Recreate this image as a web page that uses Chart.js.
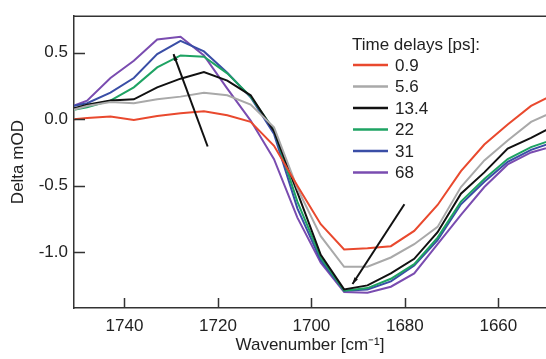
<!DOCTYPE html>
<html>
<head>
<meta charset="utf-8">
<script src="https://cdn.jsdelivr.net/npm/chart.js@4.4.1/dist/chart.umd.min.js"></script>
<style>
  html, body { margin: 0; padding: 0; background: #fff; }
  #wrap { width: 546px; height: 359px; }
</style>
</head>
<body>
<div id="wrap"><canvas id="mycanvas"></canvas></div>
<script>
// wavenumbers (cm-1) the spectra are sampled at
var wavenumbers = [1751, 1748, 1743, 1738, 1733, 1728, 1723, 1718, 1713, 1708, 1703,
                   1698, 1693, 1688, 1683, 1678, 1673, 1668, 1663, 1658, 1653, 1648];

var delays = ["0.9", "5.6", "13.4", "22", "31", "68"];
var colors = ["#e9492e", "#a9a9a9", "#111111", "#1ea363", "#3a4ea6", "#7a4cb0"];

var d0_9  = [0.00, 0.01, 0.02, -0.005, 0.025, 0.045, 0.06, 0.03, -0.02, -0.20, -0.50,
             -0.79, -0.98, -0.97, -0.955, -0.84, -0.645, -0.39, -0.19, -0.04, 0.10, 0.19];
var d5_6  = [0.07, 0.10, 0.13, 0.12, 0.15, 0.17, 0.20, 0.18, 0.11, -0.06, -0.52,
             -0.88, -1.11, -1.11, -1.04, -0.94, -0.81, -0.51, -0.31, -0.16, -0.02, 0.06];
var d13_4 = [0.08, 0.11, 0.14, 0.15, 0.24, 0.305, 0.355, 0.29, 0.18, -0.09, -0.55,
             -1.02, -1.28, -1.25, -1.16, -1.05, -0.85, -0.56, -0.40, -0.22, -0.14, -0.05];
var d22   = [0.07, 0.09, 0.14, 0.24, 0.39, 0.48, 0.47, 0.345, 0.17, -0.08, -0.62,
             -1.04, -1.29, -1.27, -1.20, -1.09, -0.89, -0.62, -0.45, -0.30, -0.21, -0.15];
var d31   = [0.10, 0.12, 0.20, 0.31, 0.49, 0.59, 0.51, 0.35, 0.165, -0.11, -0.67,
             -1.06, -1.29, -1.28, -1.22, -1.10, -0.91, -0.64, -0.47, -0.32, -0.23, -0.17];
var d68   = [0.10, 0.14, 0.31, 0.44, 0.60, 0.62, 0.48, 0.23, -0.01, -0.30, -0.74,
             -1.08, -1.30, -1.305, -1.26, -1.16, -0.94, -0.72, -0.51, -0.34, -0.25, -0.20];

var xTicks = [1740, 1720, 1700, 1680, 1660];
var yTicks = [-1.0, -0.5, 0.0, 0.5];

// annotation arrows [x0, y0, x1, y1], head at the second point
var arrow1 = [1722.2, -0.205, 1729.5, 0.49];
var arrow2 = [1680.1, -0.64, 1691.2, -1.24];

var series = [d0_9, d5_6, d13_4, d22, d31, d68];
var datasets = [];
for (var i in series) {
	var pts = [];
	for (var k in wavenumbers) {
		pts.push({x: wavenumbers[k], y: series[i][k]});
	}
	datasets.push({
		label: delays[i],
		data: pts,
		borderColor: colors[i],
		backgroundColor: colors[i],
		borderWidth: 2,
		pointRadius: 0,
		fill: false,
		tension: 0
	});
}

var FONT = "'Liberation Sans', Arial, sans-serif";
var INK = "#333333";

var decor = {
	id: "decor",
	afterDatasetsDraw: function(chart) {
		var c = chart.ctx, a = chart.chartArea;
		var xs = chart.scales.x, ys = chart.scales.y;
		c.save();
		// top frame line
		c.strokeStyle = INK;
		c.lineWidth = 1.5;
		c.beginPath();
		c.moveTo(a.left, a.top);
		c.lineTo(a.right, a.top);
		c.stroke();
		// inward ticks
		c.beginPath();
		xTicks.forEach(function(v) {
			var px = Math.round(xs.getPixelForValue(v)) + 0.5;
			c.moveTo(px, a.bottom);
			c.lineTo(px, a.bottom - 10);
		});
		yTicks.forEach(function(v) {
			var py = Math.round(ys.getPixelForValue(v)) + 0.5;
			c.moveTo(a.left, py);
			c.lineTo(a.left + 11, py);
		});
		c.stroke();

		// arrows
		c.strokeStyle = "#111";
		c.fillStyle = "#111";
		c.lineWidth = 2;
		[arrow1, arrow2].forEach(function(ar) {
			var x0 = xs.getPixelForValue(ar[0]), y0 = ys.getPixelForValue(ar[1]);
			var x1 = xs.getPixelForValue(ar[2]), y1 = ys.getPixelForValue(ar[3]);
			c.beginPath();
			c.moveTo(x0, y0);
			c.lineTo(x1, y1);
			c.stroke();
			var ang = Math.atan2(y1 - y0, x1 - x0);
			c.beginPath();
			c.moveTo(x1, y1);
			c.lineTo(x1 - 7 * Math.cos(ang - 0.3), y1 - 7 * Math.sin(ang - 0.3));
			c.lineTo(x1 - 7 * Math.cos(ang + 0.3), y1 - 7 * Math.sin(ang + 0.3));
			c.closePath();
			c.fill();
		});

		// legend
		c.font = "17px " + FONT;
		c.fillStyle = "#222";
		c.textBaseline = "middle";
		c.textAlign = "left";
		c.fillText("Time delays [ps]:", 352, 45);
		chart.data.datasets.forEach(function(ds, j) {
			var ry = 65 + j * 21.5;
			c.strokeStyle = ds.borderColor;
			c.lineWidth = 2.5;
			c.beginPath();
			c.moveTo(353, ry);
			c.lineTo(388, ry);
			c.stroke();
			c.fillText(ds.label, 395, ry + 1);
		});
		c.restore();
	}
};

var ctx = document.getElementById("mycanvas");
var chart = new Chart(ctx, {
	type: "line",
	data: { datasets: datasets },
	plugins: [decor],
	options: {
		responsive: true,
		maintainAspectRatio: false,
		animation: false,
		devicePixelRatio: 1,
		layout: { padding: { top: 12, right: 0, bottom: 0, left: 0 } },
		plugins: { legend: { display: false }, tooltip: { enabled: false } },
		scales: {
			x: {
				type: "linear",
				reverse: true,
				min: 1649.8,
				max: 1750.8,
				afterBuildTicks: function(s) { s.ticks = xTicks.map(function(v) { return {value: v}; }); },
				afterFit: function(s) { s.height = 51; },
				grid: { display: false, drawTicks: false },
				border: { display: true, color: INK, width: 1.5 },
				ticks: { padding: 8, color: "#222", font: { family: FONT, size: 17 }, maxRotation: 0,
					callback: function(v) { return v; } },
				title: { display: true, text: "Wavenumber [cm\u207B\u00B9]", color: "#222",
					font: { family: FONT, size: 17 }, padding: { top: 0, bottom: 3 } }
			},
			y: {
				min: -1.42,
				max: 0.775,
				afterBuildTicks: function(s) { s.ticks = yTicks.map(function(v) { return {value: v}; }); },
				afterFit: function(s) { s.width = 74; },
				grid: { display: false, drawTicks: false },
				border: { display: true, color: INK, width: 1.5 },
				ticks: { padding: 6, color: "#222", font: { family: FONT, size: 17 },
					callback: function(v) { return v.toFixed(1); } },
				title: { display: true, text: "Delta mOD", color: "#222",
					font: { family: FONT, size: 17 }, padding: { top: 8, bottom: 0 } }
			}
		}
	}
});
</script>
</body>
</html>
